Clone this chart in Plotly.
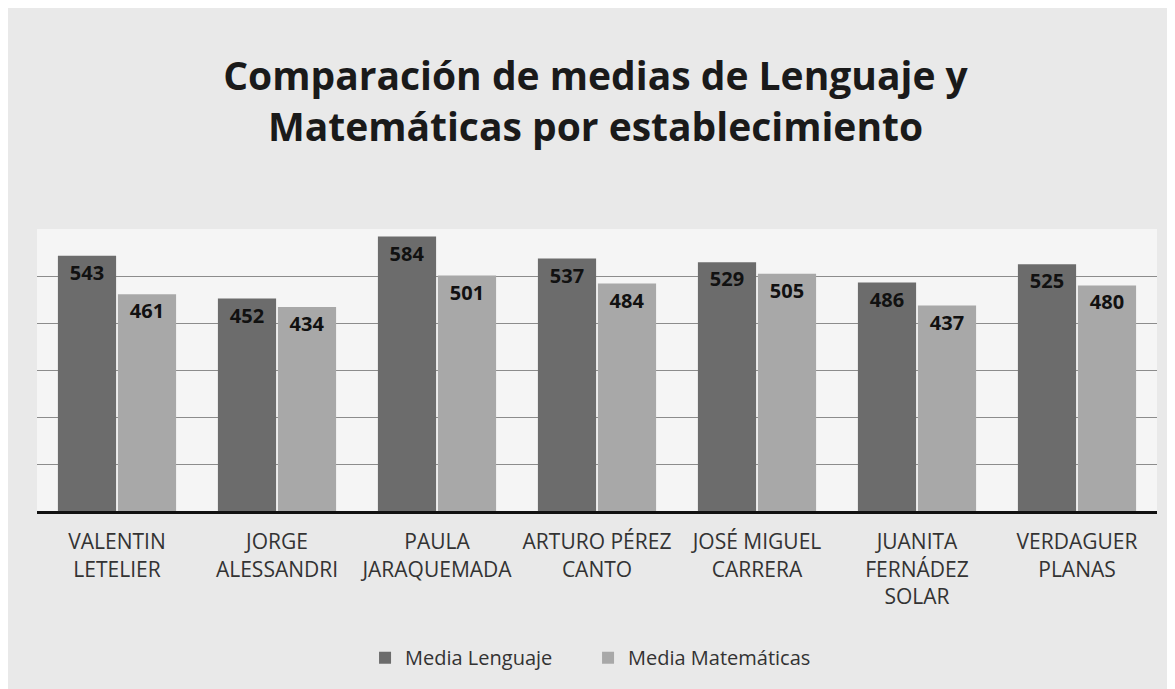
import plotly.graph_objects as go

# --- Datos ---
establecimientos = [
    "VALENTIN<br>LETELIER",
    "JORGE<br>ALESSANDRI",
    "PAULA<br>JARAQUEMADA",
    "ARTURO PÉREZ<br>CANTO",
    "JOSÉ MIGUEL<br>CARRERA",
    "JUANITA<br>FERNÁDEZ<br>SOLAR",
    "VERDAGUER<br>PLANAS",
]
media_lenguaje = [543, 452, 584, 537, 529, 486, 525]
media_matematicas = [461, 434, 501, 484, 505, 437, 480]

FONT = "Open Sans"
# la página deja 8 px de margen en el body: se compensa en los márgenes

fig = go.Figure()

fig.add_trace(go.Bar(
    x=establecimientos, y=media_lenguaje, name="Media Lenguaje",
    marker=dict(color="#6c6c6c", line=dict(width=0)),
    text=media_lenguaje, textposition="inside", insidetextanchor="end",
    textfont=dict(family=FONT, size=20, color="#111111", weight="bold"),
))
fig.add_trace(go.Bar(
    x=establecimientos, y=media_matematicas, name="Media Matemáticas",
    marker=dict(color="#a8a8a8", line=dict(width=0)),
    text=media_matematicas, textposition="inside", insidetextanchor="end",
    textfont=dict(family=FONT, size=20, color="#111111", weight="bold"),
))

fig.update_layout(
    width=1175, height=689,
    margin=dict(l=29, r=26, t=221, b=186),
    paper_bgcolor="#e9e9e9",
    plot_bgcolor="#f5f5f5",
    barmode="group", bargap=0.25, bargroupgap=0.03,
    font=dict(family=FONT, color="#333333"),
    title=dict(
        text="Comparación de medias de Lenguaje y<br>Matemáticas por establecimiento",
        x=0.5, xanchor="center", y=1 - 82 / 689, yanchor="top",
        font=dict(family=FONT, size=39, color="#1a1a1a", weight="bold"),
    ),
    legend=dict(
        orientation="h", x=0.492, xanchor="center", y=-0.52, yanchor="middle",
        font=dict(family=FONT, size=20, color="#333333"),
        bgcolor="rgba(0,0,0,0)", itemwidth=30, entrywidth=178,
    ),
    showlegend=True,
)

fig.update_xaxes(
    showline=True, linecolor="#111111", linewidth=3,
    tickfont=dict(family=FONT, size=21, color="#333333"),
    ticks="", showgrid=False, ticklabelstandoff=10,
)
fig.update_yaxes(
    range=[0, 600], dtick=100, showticklabels=False,
    showgrid=True, gridcolor="#8c8c8c", gridwidth=1,
    zeroline=False, showline=False,
)

fig.write_html("out.html")
